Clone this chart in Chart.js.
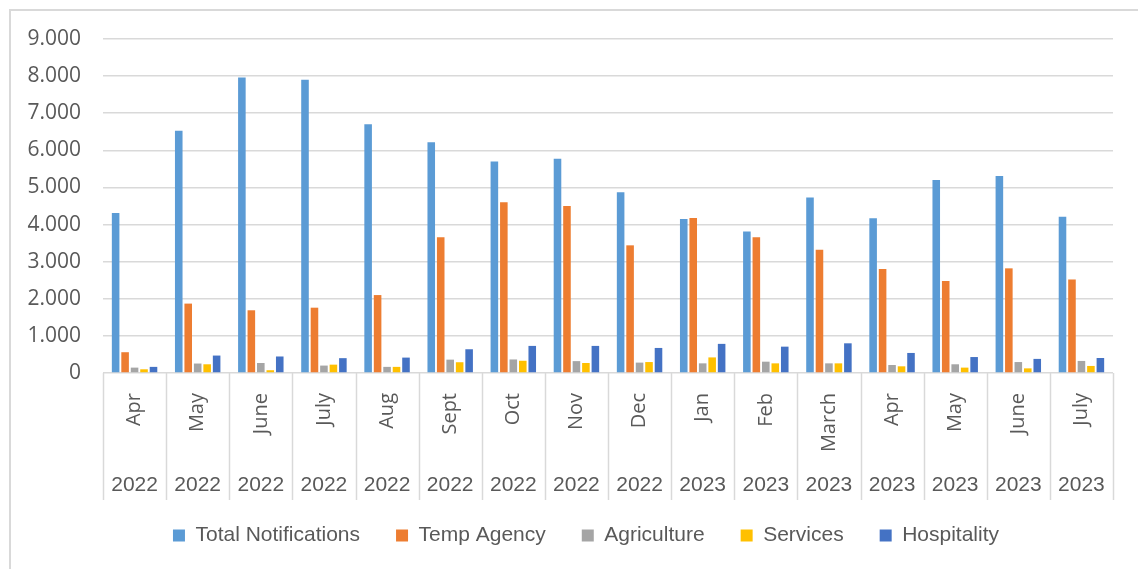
<!DOCTYPE html>
<html><head><meta charset="utf-8">
<script src="https://cdn.jsdelivr.net/npm/chart.js@4/dist/chart.umd.min.js"></script>
<style>
html,body{margin:0;padding:0;background:#fff;}
#frame{position:absolute;left:9px;top:9px;width:1140px;height:570px;border:2px solid #d9d9d9;box-sizing:border-box;}
#wrap{position:absolute;left:0;top:0;width:1138px;height:569px;}
</style></head>
<body>
<div id="frame"></div>
<div id="wrap"><canvas id="c" width="1138" height="569"></canvas></div>
<script>
const months = ["Apr","May","June","July","Aug","Sept","Oct","Nov","Dec","Jan","Feb","March","Apr","May","June","July"];
const years = ["2022","2022","2022","2022","2022","2022","2022","2022","2022","2023","2023","2023","2023","2023","2023","2023"];
const totalNotifications = [4310,6530,7960,7900,6700,6220,5700,5770,4870,4150,3810,4730,4170,5200,5310,4210];
const tempAgency = [560,1870,1690,1760,2100,3660,4600,4500,3440,4180,3660,3320,2800,2480,2820,2520];
const agriculture = [145,255,270,200,165,360,365,320,280,260,305,260,215,235,295,325];
const services = [100,235,75,225,165,290,330,270,295,420,260,260,180,145,125,190];
const hospitality = [165,470,445,400,415,640,730,730,675,785,710,800,540,430,380,405];
const yTicks = [0,1000,2000,3000,4000,5000,6000,7000,8000,9000];

const sepPlugin = {
  id: 'sep',
  afterLayout(chart) {
    const lg = chart.legend;
    if (lg) { lg.top -= 11; lg.bottom -= 11; }
  },
  afterDraw(chart) {
    const x = chart.scales.x, x2 = chart.scales.x2;
    const ctx = chart.ctx;
    const half = (x.getPixelForValue(1) - x.getPixelForValue(0)) / 2;
    ctx.save();
    ctx.strokeStyle = '#d9d9d9';
    ctx.lineWidth = 1.5;
    for (let i = 0; i <= months.length; i++) {
      const px = Math.round(x.getPixelForValue(i) - half) + 0.5;
      ctx.beginPath();
      ctx.moveTo(px, chart.chartArea.bottom);
      ctx.lineTo(px, x2.bottom);
      ctx.stroke();
    }
    ctx.restore();
  }
};

const mk = (label, data, color) => ({label, data, backgroundColor: color, borderWidth: 0,
  categoryPercentage: 0.75, barPercentage: 0.8});

new Chart(document.getElementById('c'), {
  type: 'bar',
  data: {
    labels: months,
    datasets: [
      mk('Total Notifications', totalNotifications, '#5B9BD5'),
      mk('Temp Agency', tempAgency, '#ED7D31'),
      mk('Agriculture', agriculture, '#A5A5A5'),
      mk('Services', services, '#FFC000'),
      mk('Hospitality', hospitality, '#4472C4')
    ]
  },
  options: {
    responsive: false,
    animation: false,
    layout: {padding: {top: 39, right: -34, left: 0, bottom: 2}},
    plugins: {
      tooltip: {enabled: false},
      legend: {
        position: 'bottom',
        labels: {boxWidth: 12, boxHeight: 12, padding: 36, color: '#595959',
          font: {family: "'Liberation Sans', sans-serif", size: 21}}
      }
    },
    scales: {
      y: {
        min: 0, max: 9000,
        afterBuildTicks(s) { s.ticks = yTicks.map(v => ({value: v})); },
        afterFit(s) { s.width = 103; },
        grid: {color: '#d9d9d9', lineWidth: 1.5, drawTicks: false},
        border: {display: false},
        ticks: {padding: 22, color: '#595959',
          font: {family: "'Open Sans', sans-serif", size: 21},
          callback: v => v.toLocaleString('de-DE')}
      },
      yR: {
        position: 'right',
        afterFit(s) { s.width = 59; },
        grid: {display: false},
        border: {display: false},
        ticks: {display: false}
      },
      x: {
        position: 'bottom',
        afterFit(s) { s.height = 88; },
        grid: {display: false},
        border: {display: false},
        ticks: {autoSkip: false, maxRotation: 90, minRotation: 90, padding: 12, color: '#595959',
          font: {family: "'Open Sans', sans-serif", size: 20}}
      },
      x2: {
        type: 'category',
        labels: years,
        position: 'bottom',
        offset: true,
        afterFit(s) { s.height = 39; },
        grid: {display: false},
        border: {display: false},
        ticks: {autoSkip: false, maxRotation: 0, padding: 4, color: '#595959',
          font: {family: "'Liberation Sans', sans-serif", size: 21}}
      }
    }
  },
  plugins: [sepPlugin]
});
</script>
</body></html>
